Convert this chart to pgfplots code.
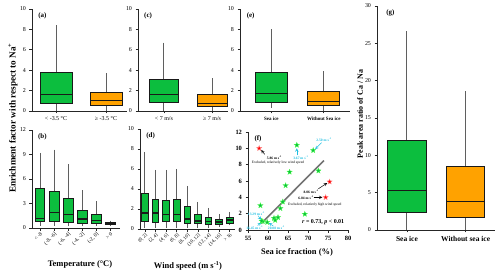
\documentclass[border=0pt]{standalone}
\usepackage{fontspec}
\setmainfont{Liberation Serif}
\usepackage{pgfplots}
\pgfplotsset{compat=1.18}
\usepgfplotslibrary{statistics}
\definecolor{cgreen}{RGB}{12,190,62}
\definecolor{corange}{RGB}{255,162,0}
\definecolor{cwhisk}{RGB}{95,95,95}
\definecolor{ccyan}{RGB}{30,190,225}
\pgfdeclareplotmark{fstar}{%
  \pgfpathmoveto{\pgfpointpolar{90}{\pgfplotmarksize}}%
  \pgfpathlineto{\pgfpointpolar{126}{0.42*\pgfplotmarksize}}%
  \pgfpathlineto{\pgfpointpolar{162}{\pgfplotmarksize}}%
  \pgfpathlineto{\pgfpointpolar{198}{0.42*\pgfplotmarksize}}%
  \pgfpathlineto{\pgfpointpolar{234}{\pgfplotmarksize}}%
  \pgfpathlineto{\pgfpointpolar{270}{0.42*\pgfplotmarksize}}%
  \pgfpathlineto{\pgfpointpolar{306}{\pgfplotmarksize}}%
  \pgfpathlineto{\pgfpointpolar{342}{0.42*\pgfplotmarksize}}%
  \pgfpathlineto{\pgfpointpolar{18}{\pgfplotmarksize}}%
  \pgfpathlineto{\pgfpointpolar{54}{0.42*\pgfplotmarksize}}%
  \pgfpathclose
  \pgfusepathqfillstroke
}
\pgfplotsset{
  base/.style={scale only axis, axis lines=left,
    axis line style={-,line width=0.9pt,black!85},
    tick align=outside, major tick length=2.5bp,
    tick style={line width=0.7pt,black!85},
    ticklabel style={font=\fontsize{6}{7}\selectfont},
    /pgf/number format/assume math mode=true,
    anchor=south west, clip=false,
    boxplot/draw direction=y,
    boxplot/whisker extend=0,
    boxplot/every whisker/.style={draw=cwhisk,line width=1pt},
    boxplot/every median/.style={line width=1.2pt},
  },
  bx/.style={boxplot prepared={#1}, draw=black!90, line width=0.9pt},
}
\tikzset{plab/.style={anchor=north west,font=\bfseries\fontsize{7}{8}\selectfont}}
\newcommand{\ann}{\fontsize{3.6}{4}\selectfont}
\begin{document}
\begin{tikzpicture}
\useasboundingbox (0,0) rectangle (500bp,273bp);
% (a)
\begin{axis}[base, at={(32bp,162bp)}, width=95bp, height=102bp,
  xmin=0.52, xmax=2.42, ymin=0, ymax=10, ytick={0,2,...,10},
  xtick={1,2}, xticklabels={{< -3.5 °C},{≥ -3.5 °C}}]
\addplot[bx={draw position=1, lower whisker=0, lower quartile=0.75, median=1.6, upper quartile=3.8, upper whisker=8.4, box extend=0.64}, fill=cgreen] coordinates {};
\addplot[bx={draw position=2, lower whisker=0, lower quartile=0.55, median=1.0, upper quartile=1.85, upper whisker=3.7, box extend=0.64}, fill=corange] coordinates {};
\node[plab] at (rel axis cs:0.03,1.0) {(a)};
\end{axis}
% (c)
\begin{axis}[base, at={(138bp,162bp)}, width=90bp, height=102bp,
  xmin=0.46, xmax=2.33, ymin=0, ymax=10, ytick={0,2,...,10},
  xtick={1,2}, xticklabels={{< 7 m/s},{≥ 7 m/s}}]
\addplot[bx={draw position=1, lower whisker=0, lower quartile=0.8, median=1.6, upper quartile=3.1, upper whisker=6.7, box extend=0.62}, fill=cgreen] coordinates {};
\addplot[bx={draw position=2, lower whisker=0, lower quartile=0.4, median=0.7, upper quartile=1.6, upper whisker=3.2, box extend=0.62}, fill=corange] coordinates {};
\node[plab] at (rel axis cs:0.03,1.0) {(c)};
\end{axis}
% (e)
\begin{axis}[base, at={(240bp,162bp)}, width=110bp, height=102bp,
  xmin=0.4, xmax=2.5, ymin=0, ymax=10, ytick={0,2,...,10},
  xtick={1,2}, xticklabels={{Sea ice},{Without Sea ice}},
  xticklabel style={font=\bfseries\fontsize{5}{6}\selectfont}]
\addplot[bx={draw position=1, lower whisker=0.3, lower quartile=0.8, median=1.7, upper quartile=3.8, upper whisker=8.0, box extend=0.61}, fill=cgreen] coordinates {};
\addplot[bx={draw position=2, lower whisker=0, lower quartile=0.55, median=0.9, upper quartile=1.9, upper whisker=3.9, box extend=0.61}, fill=corange] coordinates {};
\node[plab] at (rel axis cs:0.03,1.0) {(e)};
\end{axis}
% (b)
\begin{axis}[base, at={(32bp,45bp)}, width=88bp, height=98bp,
  xmin=0.43, xmax=6.7, ymin=0, ymax=12, ytick={0,3,...,12},
  xtick={1,...,6}, xticklabels={{< -8},{(-8, -6]},{(-6, -4]},{(-4, -2]},{(-2, 0]},{> 0}},
  xticklabel style={rotate=45,anchor=north east,font=\fontsize{5.3}{6}\selectfont,inner sep=0.8pt}]
\addplot[bx={draw position=1, lower whisker=0.3, lower quartile=0.8, median=1.2, upper quartile=4.8, upper whisker=9.2, box extend=0.7}, fill=cgreen] coordinates {};
\addplot[bx={draw position=2, lower whisker=0.3, lower quartile=0.8, median=1.9, upper quartile=4.5, upper whisker=9.6, box extend=0.7}, fill=cgreen] coordinates {};
\addplot[bx={draw position=3, lower whisker=0.2, lower quartile=0.7, median=1.7, upper quartile=3.6, upper whisker=7.8, box extend=0.7}, fill=cgreen] coordinates {};
\addplot[bx={draw position=4, lower whisker=0.2, lower quartile=0.6, median=1.1, upper quartile=2.2, upper whisker=4.6, box extend=0.7}, fill=cgreen] coordinates {};
\addplot[bx={draw position=5, lower whisker=0.2, lower quartile=0.5, median=0.9, upper quartile=1.6, upper whisker=3.3, box extend=0.7}, fill=cgreen] coordinates {};
\addplot[bx={draw position=6, lower whisker=0.3, lower quartile=0.45, median=0.55, upper quartile=0.7, upper whisker=0.9, box extend=0.7}, fill=cgreen] coordinates {};
\node[plab] at (rel axis cs:0.03,1.0) {(b)};
\end{axis}
% (d)
\begin{axis}[base, at={(140bp,44bp)}, width=95bp, height=100bp,
  xmin=0.53, xmax=9.5, ymin=0, ymax=10, ytick={0,2,...,10},
  xtick={1,...,9}, xticklabels={{(0, 2]},{(2, 4]},{(4, 6]},{(6, 8]},{(8, 10]},{(10, 12]},{(12, 14]},{(14, 16]},{> 16}},
  xticklabel style={rotate=45,anchor=north east,font=\fontsize{5}{6}\selectfont,inner sep=0.8pt}]
\addplot[bx={draw position=1, lower whisker=0.1, lower quartile=0.8, median=1.6, upper quartile=3.6, upper whisker=7.7, box extend=0.62}, fill=cgreen] coordinates {};
\addplot[bx={draw position=2, lower whisker=0.1, lower quartile=0.7, median=1.6, upper quartile=3.0, upper whisker=5.9, box extend=0.62}, fill=cgreen] coordinates {};
\addplot[bx={draw position=3, lower whisker=0.1, lower quartile=0.75, median=1.45, upper quartile=2.9, upper whisker=5.9, box extend=0.62}, fill=cgreen] coordinates {};
\addplot[bx={draw position=4, lower whisker=0.1, lower quartile=0.75, median=1.45, upper quartile=3.0, upper whisker=6.0, box extend=0.62}, fill=cgreen] coordinates {};
\addplot[bx={draw position=5, lower whisker=0.1, lower quartile=0.6, median=1.0, upper quartile=2.25, upper whisker=4.3, box extend=0.62}, fill=cgreen] coordinates {};
\addplot[bx={draw position=6, lower whisker=0.1, lower quartile=0.55, median=0.8, upper quartile=1.5, upper whisker=2.7, box extend=0.62}, fill=cgreen] coordinates {};
\addplot[bx={draw position=7, lower whisker=0.1, lower quartile=0.5, median=0.75, upper quartile=1.15, upper whisker=2.1, box extend=0.62}, fill=cgreen] coordinates {};
\addplot[bx={draw position=8, lower whisker=0.2, lower quartile=0.45, median=0.7, upper quartile=1.0, upper whisker=1.5, box extend=0.62}, fill=cgreen] coordinates {};
\addplot[bx={draw position=9, lower whisker=0.4, lower quartile=0.6, median=0.9, upper quartile=1.15, upper whisker=1.7, box extend=0.62}, fill=cgreen] coordinates {};
\node[plab] at (rel axis cs:0.03,1.0) {(d)};
\end{axis}
% (f)
\begin{axis}[base, at={(248bp,43bp)}, width=100bp, height=98bp,
  xmin=55, xmax=80, ymin=0, ymax=12, xtick={55,60,...,80}, ytick={0,2,...,12},
  ticklabel style={font=\bfseries\fontsize{6.5}{7}\selectfont}]
\addplot[line width=1.6pt, black!55] coordinates {(58.3,0.8) (74.0,8.5)};
\addplot[only marks, mark=fstar, mark size=2.8bp, fill=cgreen, draw=green!70!white, line width=0.3pt] coordinates {
(67.2,10.4) (71.3,9.75) (72.6,7.25) (65.4,7.1) (64.4,5.45) (63.7,3.45) (63.1,2.65)
(58.1,3.0) (69.2,1.95) (62.5,1.55) (61.5,1.45) (61.8,1.2) (58.7,1.05) (59.8,0.95) (58.4,1.1)};
\addplot[only marks, mark=fstar, mark size=2.8bp, fill=red, draw=red!40!white, line width=0.3pt] coordinates {
(57.8,10.0) (75.4,5.9) (74.4,4.0)};
\node[plab] at (rel axis cs:0.03,1.0) {(f)};
\draw[->,>=stealth,line width=0.5pt] (axis cs:59.2,9.25) -- (axis cs:58.3,9.8);
\node[font=\bfseries\ann] at (axis cs:61.6,8.9) {5.86 m s\textsuperscript{-1}};
\node[font=\ann] at (axis cs:62.5,8.25) {Excluded, relatively low wind speed};
\node[font=\bfseries\ann,text=ccyan] at (axis cs:74.0,11.0) {2.50 m s\textsuperscript{-1}};
\draw[->,>=stealth,line width=0.5pt,ccyan] (axis cs:73.4,10.7) -- (axis cs:71.8,9.9);
\node[font=\bfseries\ann,text=ccyan] at (axis cs:68.2,8.85) {3.67 m s\textsuperscript{-1}};
\draw[->,>=stealth,line width=0.5pt,ccyan] (axis cs:67.2,9.15) -- (axis cs:67.2,10.0);
\node[font=\bfseries\ann] at (axis cs:70.8,4.75) {8.06 m s\textsuperscript{-1}};
\draw[->,>=stealth,line width=0.5pt] (axis cs:72.6,5.05) -- (axis cs:74.8,5.75);
\node[font=\bfseries\ann] at (axis cs:69.5,4.0) {6.04 m s\textsuperscript{-1}};
\draw[->,>=stealth,line width=0.5pt] (axis cs:71.4,4.0) -- (axis cs:73.6,4.0);
\node[font=\ann] at (axis cs:71.7,3.1) {Excluded, relatively high wind speed};
\node[font=\bfseries\ann,text=ccyan] at (axis cs:57.1,2.05) {13.29 m s\textsuperscript{-1}};
\draw[->,>=stealth,line width=0.5pt,ccyan] (axis cs:57.5,1.75) -- (axis cs:58.3,1.25);
\node[font=\bfseries\ann,text=ccyan] at (axis cs:56.7,0.33) {16.45 m s\textsuperscript{-1}};
\draw[->,>=stealth,line width=0.5pt,ccyan] (axis cs:57.4,0.55) -- (axis cs:58.3,0.9);
\node[font=\bfseries\ann,text=ccyan] at (axis cs:62.1,0.3) {20.08 m s\textsuperscript{-1}};
\draw[->,>=stealth,line width=0.5pt,ccyan] (axis cs:61.3,0.5) -- (axis cs:60.2,0.85);
\node[font=\bfseries\fontsize{6}{7}\selectfont] at (axis cs:73.8,0.95) {\textit{r} = 0.73, \textit{p} < 0.01};
\end{axis}
% (g)
\begin{axis}[base, at={(377bp,43bp)}, width=118bp, height=224bp,
  xmin=0.49, xmax=2.5, ymin=0, ymax=30, ytick={0,5,...,30},
  xtick={1,2}, xticklabels={{Sea ice},{Without sea ice}},
  xticklabel style={font=\bfseries\fontsize{7.5}{8}\selectfont}]
\addplot[bx={draw position=1, lower whisker=0, lower quartile=2.3, median=5.3, upper quartile=12.0, upper whisker=26.6, box extend=0.65}, fill=cgreen] coordinates {};
\addplot[bx={draw position=2, lower whisker=0, lower quartile=1.7, median=3.85, upper quartile=8.5, upper whisker=18.6, box extend=0.65}, fill=corange] coordinates {};
\node[plab] at (rel axis cs:0.05,1.0) {(g)};
\end{axis}
% labels
\node[rotate=90,font=\bfseries\fontsize{9.2}{10}\selectfont] at (13bp,155bp) {Enrichment factor with respect to Na\textsuperscript{+}};
\node[font=\bfseries\fontsize{8.5}{9}\selectfont] at (80bp,9bp) {Temperature (°C)};
\node[font=\bfseries\fontsize{8.5}{9}\selectfont] at (188bp,7bp) {Wind speed (m s\textsuperscript{-1})};
\node[font=\bfseries\fontsize{8.5}{9}\selectfont] at (297bp,21bp) {Sea ice fraction (\%)};
\node[rotate=90,font=\bfseries\fontsize{8}{9}\selectfont] at (360bp,159bp) {Peak area ratio of Ca / Na};
\end{tikzpicture}
\end{document}
